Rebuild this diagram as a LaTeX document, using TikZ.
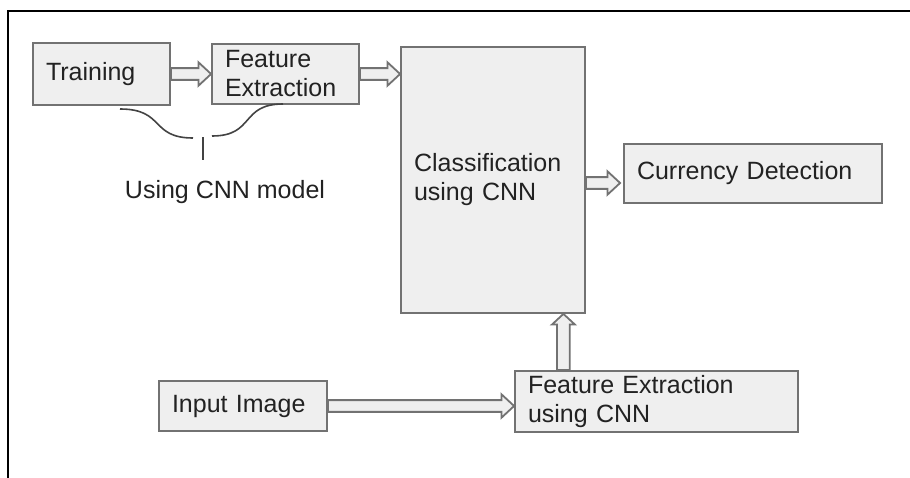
\documentclass[tikz,border=0pt]{standalone}
\usepackage{fontspec}
\setmainfont{Liberation Sans}
\usetikzlibrary{calc}
\definecolor{boxfill}{HTML}{EFEFEF}
\definecolor{boxline}{HTML}{727272}
\definecolor{ink}{HTML}{222222}
\tikzset{box/.style={draw=boxline,fill=boxfill,line width=1.35pt,inner xsep=9.75pt,inner ysep=2pt,align=left,text=ink,font=\fontsize{18.75}{21.75}\selectfont} }
\tikzset{blockarrow/.style={draw=boxline,fill=boxfill,line width=1.35pt,line join=miter} }
\tikzset{note/.style={text=ink,font=\fontsize{18.75}{21.75}\selectfont} }
\tikzset{brace line/.style={draw=ink!85,line width=1.2pt} }
% horizontal block arrow, #1 -> #2 (left to right)
\newcommand{\harrow}[2]{\draw[blockarrow] let \p1=(#1), \p2=(#2) in
  (\x1,\y1+4.4pt) -- (\x2-9.5pt,\y1+4.4pt) -- (\x2-9.5pt,\y1+8.8pt) -- (\x2,\y1)
  -- (\x2-9.5pt,\y1-8.8pt) -- (\x2-9.5pt,\y1-4.4pt) -- (\x1,\y1-4.4pt) -- cycle;}
% vertical block arrow, #1 -> #2 (bottom to top)
\newcommand{\varrow}[2]{\draw[blockarrow] let \p1=(#1), \p2=(#2) in
  (\x1-4.8pt,\y1) -- (\x1-4.8pt,\y2-8pt) -- (\x1-8.6pt,\y2-8pt) -- (\x1,\y2)
  -- (\x1+8.6pt,\y2-8pt) -- (\x1+4.8pt,\y2-8pt) -- (\x1+4.8pt,\y1) -- cycle;}

\begin{document}
\begin{tikzpicture}[x=0.75pt,y=-0.75pt]
\useasboundingbox (0,0) rectangle (910,478);
\draw[line width=1.5pt] (8,478) -- (8,11) -- (910,11);

  \node[box,text width=83.25pt,minimum height=46.5pt] (training) at (101.5,74) {Training};
  \node[box,text width=90.75pt,minimum height=45pt] (feat) at (285.5,74) {Feature\\Extraction};
  \node[box,text width=118.5pt,minimum height=199.5pt] (classify) at (493,180) {Classification\\using CNN};
  \node[box,text width=174pt,minimum height=44.25pt] (currency) at (753,173.5) {Currency Detection};
  \node[box,text width=106.5pt,minimum height=37.5pt] (input) at (243,406) {Input Image};
  \node[box,text width=192.75pt,minimum height=45.75pt] (featcnn) at (656.5,401.5) {Feature Extraction\\using CNN};

  \node[note] (cnnlabel) at (225,192) {Using CNN model};

  % brace under the training steps
  \draw[brace line] (120,109) .. controls (165,109) and (150,138) .. (193,138);
  \draw[brace line] (212,136) .. controls (255,136) and (240,104) .. (283,104);
  \draw[brace line] (203,137) -- (203,160);

  \coordinate (up) at ([xshift=37pt]featcnn.north west);

  \harrow{training.east}{training.east -| feat.west}
  \harrow{feat.east}{feat.east -| classify.west}
  \harrow{$(classify.east)+(0,3)$}{$(classify.east -| currency.west)+(-3,3)$}
  \harrow{input.east}{input.east -| featcnn.west}
  \varrow{up}{up |- classify.south}
\end{tikzpicture}
\end{document}
